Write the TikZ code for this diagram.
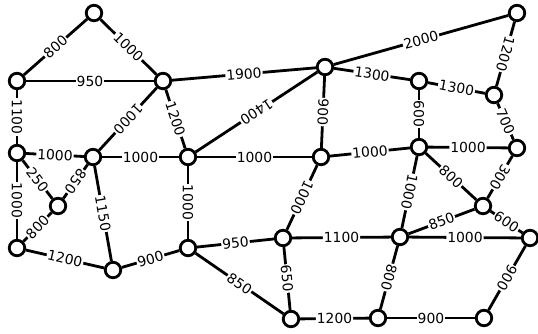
\documentclass[tikz,border=0pt]{standalone}
\usepackage{fontspec}
\setmainfont{DejaVu Sans}
\begin{document}
\begin{tikzpicture}[x=1pt,y=-1pt,
  vtx/.style={circle,draw,fill=white,line width=2.8pt,minimum size=15.5pt,inner sep=0pt},
  edg/.style={line width=2.8pt},
  lbl/.style={midway,sloped,allow upside down,fill=white,inner sep=1pt,font=\fontsize{13.9pt}{14pt}\selectfont}]
\useasboundingbox (0,0) rectangle (538,333);
\node[vtx] (A) at (94,13) {};
\node[vtx] (B) at (17,81) {};
\node[vtx] (C) at (163,81) {};
\node[vtx] (D) at (325,67) {};
\node[vtx] (E) at (517,13) {};
\node[vtx] (F) at (419,81) {};
\node[vtx] (G) at (494,95) {};
\node[vtx] (H) at (17,153) {};
\node[vtx] (I) at (93,157) {};
\node[vtx] (J) at (188,157) {};
\node[vtx] (K) at (321,157) {};
\node[vtx] (L) at (419,147) {};
\node[vtx] (M) at (517,148) {};
\node[vtx] (N) at (58,206) {};
\node[vtx] (O) at (483,206) {};
\node[vtx] (P) at (17,248) {};
\node[vtx] (Q) at (113,270) {};
\node[vtx] (R) at (188,248) {};
\node[vtx] (S) at (283,238) {};
\node[vtx] (T) at (400,237) {};
\node[vtx] (U) at (530,238) {};
\node[vtx] (V) at (291,319) {};
\node[vtx] (W) at (378,318) {};
\node[vtx] (X) at (484,318) {};
\draw[edg] (B) -- node[lbl]{800} (A);
\draw[edg] (A) -- node[lbl]{1000} (C);
\draw[edg] (B) -- node[lbl]{950} (C);
\draw[edg] (B) -- node[lbl]{1100} (H);
\draw[edg] (C) -- node[lbl]{1900} (D);
\draw[edg] (C) -- node[lbl]{1000} (I);
\draw[edg] (C) -- node[lbl]{1200} (J);
\draw[edg] (D) -- node[lbl]{2000} (E);
\draw[edg] (D) -- node[lbl]{1300} (F);
\draw[edg] (D) -- node[lbl]{1400} (J);
\draw[edg] (D) -- node[lbl]{900} (K);
\draw[edg] (E) -- node[lbl]{1200} (G);
\draw[edg] (F) -- node[lbl]{1300} (G);
\draw[edg] (F) -- node[lbl]{600} (L);
\draw[edg] (G) -- node[lbl]{700} (M);
\draw[edg] (H) -- node[lbl]{1000} (I);
\draw[edg] (H) -- node[lbl]{250} (N);
\draw[edg] (H) -- node[lbl]{1000} (P);
\draw[edg] (I) -- node[lbl]{1000} (J);
\draw[edg] (I) -- node[lbl]{850} (N);
\draw[edg] (I) -- node[lbl]{1150} (Q);
\draw[edg] (J) -- node[lbl]{1000} (K);
\draw[edg] (J) -- node[lbl]{1000} (R);
\draw[edg] (K) -- node[lbl]{1000} (L);
\draw[edg] (K) -- node[lbl]{1000} (S);
\draw[edg] (L) -- node[lbl]{1000} (M);
\draw[edg] (L) -- node[lbl]{800} (O);
\draw[edg] (L) -- node[lbl]{1000} (T);
\draw[edg] (M) -- node[lbl]{300} (O);
\draw[edg] (P) -- node[lbl]{800} (N);
\draw[edg] (P) -- node[lbl]{1200} (Q);
\draw[edg] (Q) -- node[lbl]{900} (R);
\draw[edg] (R) -- node[lbl]{950} (S);
\draw[edg] (R) -- node[lbl]{850} (V);
\draw[edg] (S) -- node[lbl]{1100} (T);
\draw[edg] (S) -- node[lbl]{650} (V);
\draw[edg] (T) -- node[lbl]{850} (O);
\draw[edg] (T) -- node[lbl]{1000} (U);
\draw[edg] (T) -- node[lbl]{800} (W);
\draw[edg] (O) -- node[lbl]{600} (U);
\draw[edg] (U) -- node[lbl]{900} (X);
\draw[edg] (V) -- node[lbl]{1200} (W);
\draw[edg] (W) -- node[lbl]{900} (X);
\end{tikzpicture}
\end{document}
